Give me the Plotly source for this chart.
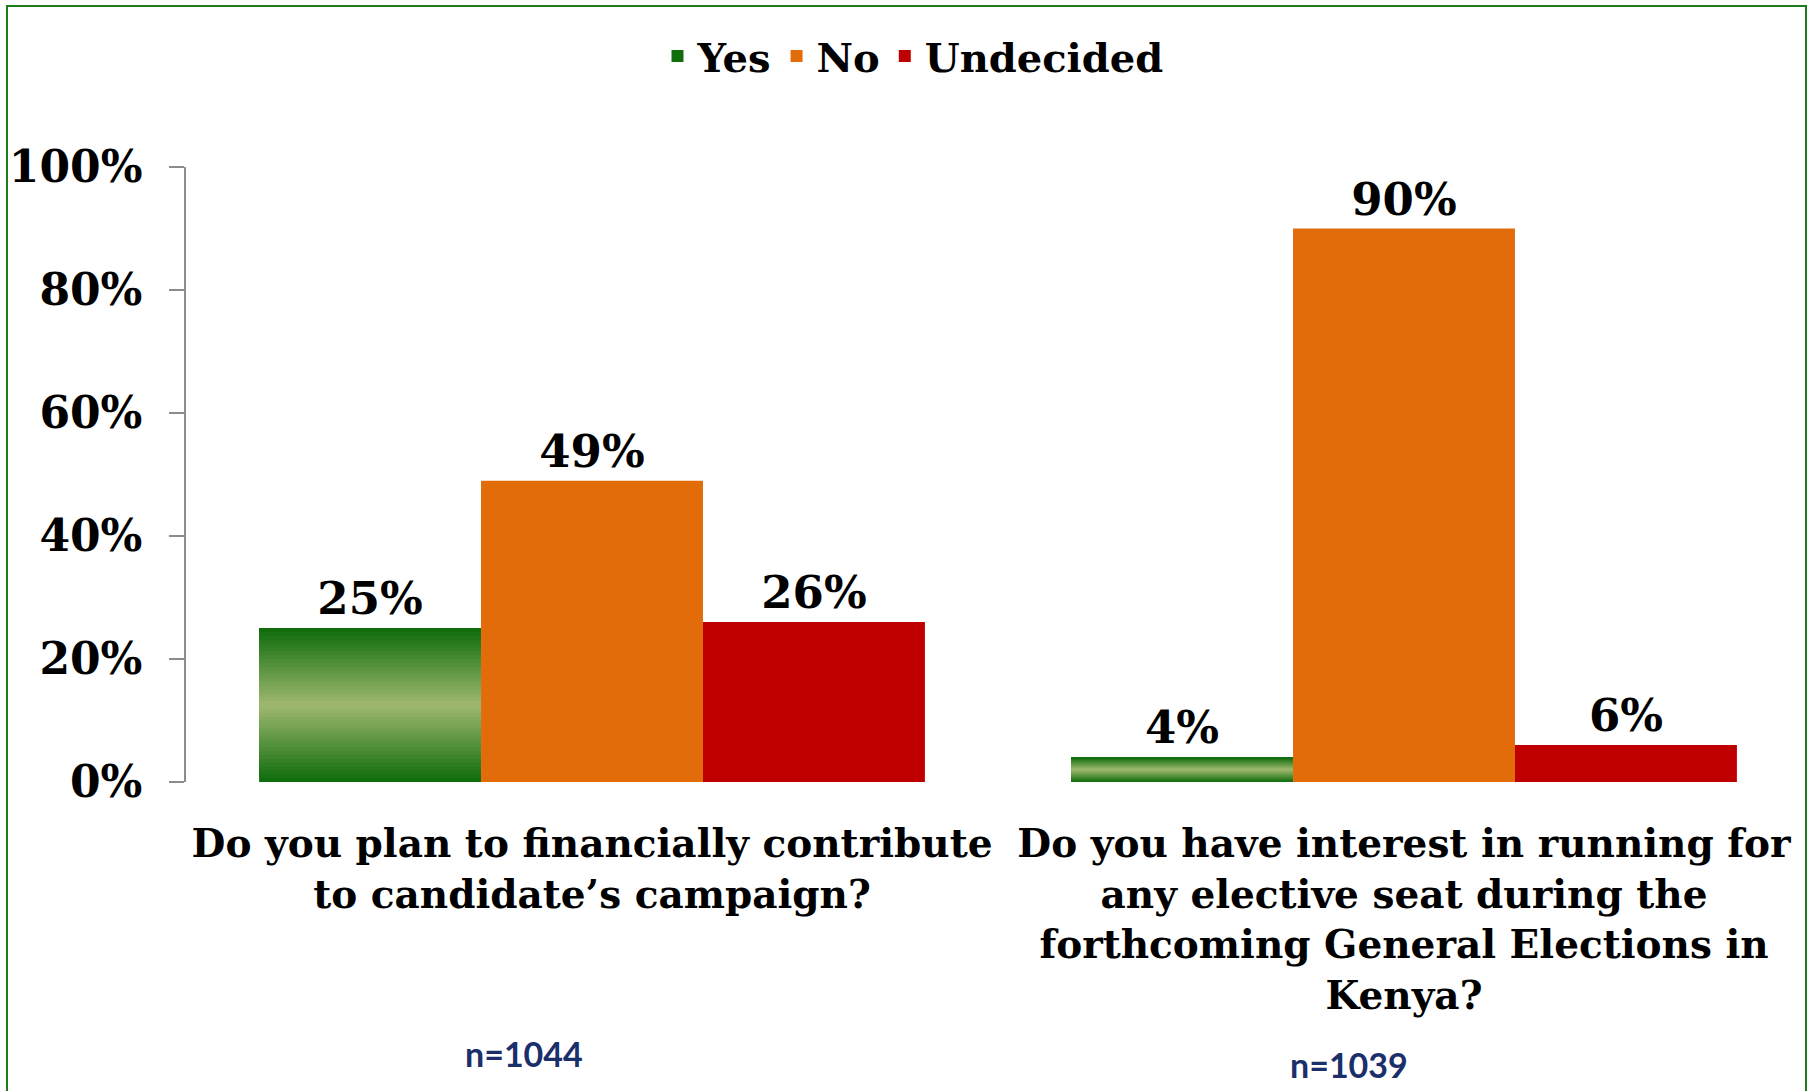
import plotly.graph_objects as go

categories = [
    "Do you plan to financially contribute<br>to candidate’s campaign?",
    "Do you have interest in running for<br>any elective seat during the<br>forthcoming General Elections in<br>Kenya?",
]
yes_vals = [25, 4]
no_vals = [49, 90]
undecided_vals = [26, 6]
sample_labels = ["n=1044", "n=1039"]
y_ticks = [0, 20, 40, 60, 80, 100]
y_tick_labels = ["0%", "20%", "40%", "60%", "80%", "100%"]

SERIF = "DejaVu Serif"
GREEN_DARK = (13, 107, 10)
GREEN_LIGHT = (160, 185, 112)
ORANGE = "#E36C0A"
RED = "#C00000"
NAVY = "#1B2F6B"

W, H = 1812, 1091
# plot area edges in pixels
PL, PR, PT, PB = 186, 1810, 167, 782
L, R, T, B = PL, W - PR, PT, H - PB
pw = W - L - R
ph = H - T - B


def px_x(x):
    return (x - L) / pw


def px_y(y):
    return (H - B - y) / ph


def mix(t):
    r = [round(GREEN_LIGHT[k] + (GREEN_DARK[k] - GREEN_LIGHT[k]) * t) for k in range(3)]
    return f"rgb({r[0]},{r[1]},{r[2]})"


def sfont(size):
    return dict(family=SERIF, size=size, color="black", weight="bold")


value_font = sfont(45)

fig = go.Figure()

# Yes bars: vertical gradient from overlapping segments in the same slot
N = 40
for i in range(N):
    frac = i / N
    tmid = (i + 0.5) / N
    dist = abs(tmid - 0.5) * 2
    base = [v * frac for v in yes_vals]
    h = [v - b for v, b in zip(yes_vals, base)]
    kw = {}
    if i == 0:
        kw = dict(text=[f"{v}%" for v in yes_vals], textposition="outside", textfont=value_font)
    fig.add_trace(go.Bar(
        x=categories, y=h, base=base, name="Yes", offsetgroup="yes",
        marker=dict(color=mix(dist), line=dict(width=0)),
        showlegend=(i == 0), legendgroup="yes", cliponaxis=False, hoverinfo="skip",
        **kw,
    ))

fig.add_trace(go.Bar(
    x=categories, y=no_vals, name="No", offsetgroup="no",
    marker=dict(color=ORANGE, line=dict(width=0)),
    text=[f"{v}%" for v in no_vals], textposition="outside", cliponaxis=False,
    textfont=value_font,
))
fig.add_trace(go.Bar(
    x=categories, y=undecided_vals, name="Undecided", offsetgroup="und",
    marker=dict(color=RED, line=dict(width=0)),
    text=[f"{v}%" for v in undecided_vals], textposition="outside", cliponaxis=False,
    textfont=value_font,
))

fig.add_shape(type="rect", xref="paper", yref="paper",
              x0=px_x(7), x1=px_x(1806), y0=px_y(1130), y1=px_y(6),
              line=dict(color="#1E7B1E", width=2), layer="below")

n_pos = [(524, 1053), (1349, 1064)]
for lab, (xp, yp) in zip(sample_labels, n_pos):
    fig.add_annotation(text=f"<b>{lab}</b>", xref="paper", yref="paper",
                       x=px_x(xp), y=px_y(yp), showarrow=False,
                       xanchor="center", yanchor="middle",
                       font=dict(family="Lato", size=34, color=NAVY))

fig.update_layout(
    width=W, height=H,
    margin=dict(l=L, r=R, t=T, b=B, autoexpand=False),
    paper_bgcolor="white", plot_bgcolor="white",
    barmode="group", bargap=0.18, bargroupgap=0,
    legend=dict(orientation="h", x=px_x(913), xanchor="center", y=px_y(56), yanchor="middle",
                font=sfont(40), traceorder="normal"),
    font=dict(family=SERIF, color="black"),
)
fig.update_yaxes(range=[0, 100], tickmode="array", tickvals=y_ticks, ticktext=y_tick_labels,
                 showgrid=False, showline=True, linecolor="#8C8C8C", linewidth=1.5,
                 ticks="outside", ticklen=15, tickcolor="#8C8C8C", tickwidth=1.5,
                 ticklabelstandoff=18,
                 tickfont=sfont(44), zeroline=False, automargin=False)
fig.update_xaxes(showline=False, showgrid=False, ticks="", ticklabelstandoff=35,
                 tickangle=0, automargin=False, tickfont=sfont(39))

fig.write_html("out.html", config={"displayModeBar": False},
               post_script="document.body.style.margin='0';document.body.style.overflow='hidden';")
